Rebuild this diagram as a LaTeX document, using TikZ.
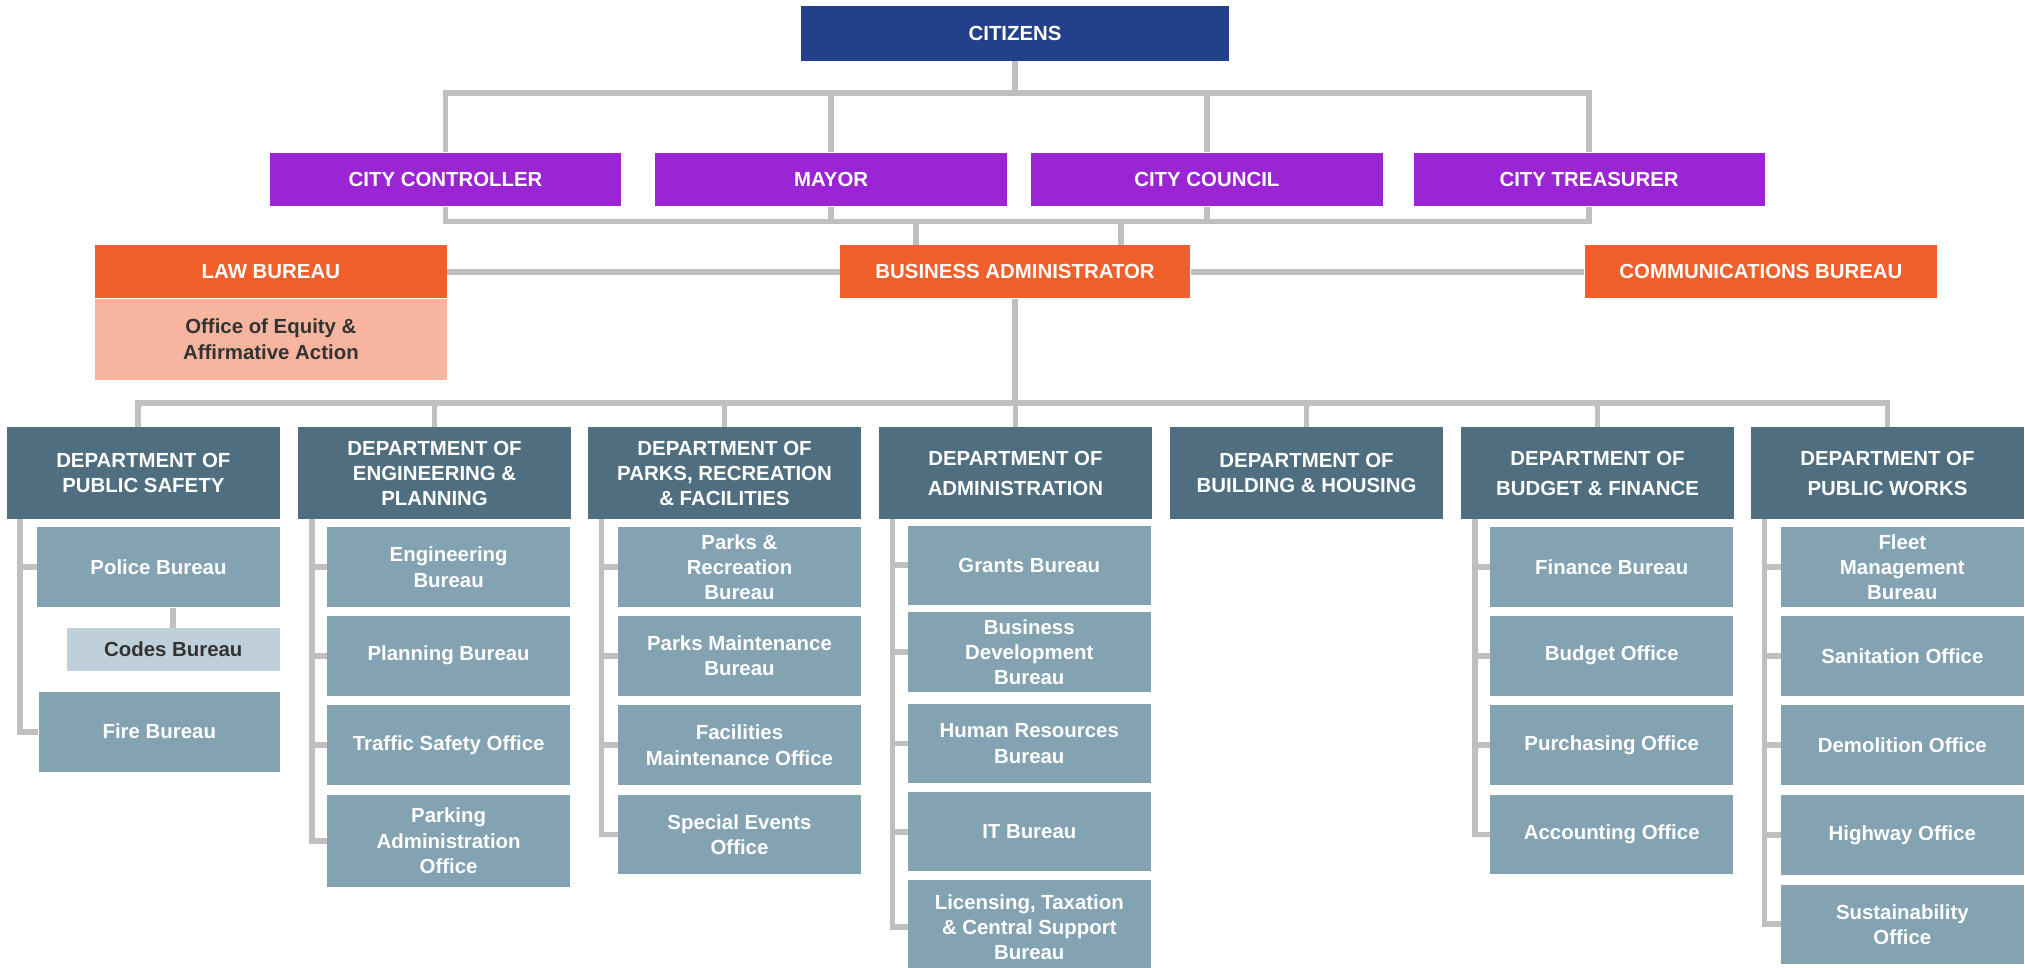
\documentclass[tikz,border=0pt]{standalone}
\usepackage{fontspec}
\setmainfont{Liberation Sans}

\definecolor{citizenblue}{HTML}{23408A}
\definecolor{electpurple}{HTML}{9B24D4}
\definecolor{officeorange}{HTML}{F15F2B}
\definecolor{equitysalmon}{HTML}{F7B5A0}
\definecolor{deptslate}{HTML}{4F6F80}
\definecolor{unitblue}{HTML}{84A3B2}
\definecolor{codesblue}{HTML}{BFD0DA}
\definecolor{linkgray}{HTML}{BFBFBF}
\definecolor{darktext}{HTML}{333333}

\tikzset{
	box/.style={rectangle, inner sep=0pt, align=center, text=white, font=\bfseries\fontsize{15.8}{19.5}\selectfont},
	citizenbox/.style={box, fill=citizenblue, minimum width=332pt, minimum height=42pt},
	electbox/.style={box, fill=electpurple, minimum width=272pt, minimum height=41.5pt},
	officebox/.style={box, fill=officeorange, minimum width=272pt, minimum height=41pt},
	equitybox/.style={box, fill=equitysalmon, text=darktext, minimum width=272pt, minimum height=62.5pt},
	deptbox/.style={box, fill=deptslate, minimum width=211pt, minimum height=71pt},
	unitbox/.style={box, fill=unitblue, minimum width=188pt, minimum height=62pt},
	codesbox/.style={box, fill=codesblue, text=darktext, minimum width=165pt, minimum height=33pt},
	link/.style={draw=linkgray, line width=4.5pt},
}

\begin{document}
\begin{tikzpicture}[x=1pt, y=-1pt]
		\path[use as bounding box, clip] (0,0) rectangle (1568,749);

		\node[citizenbox] (citizens) at (786,26) {CITIZENS};

		\node[electbox] (controller) at (345,139) {CITY CONTROLLER};
		\node[electbox] (mayor) at (643.5,139) {MAYOR};
		\node[electbox] (council) at (934.5,139) {CITY COUNCIL};
		\node[electbox] (treasurer) at (1230.5,139) {CITY TREASURER};

		\node[officebox, minimum width=272.5pt] (law) at (209.75,210.5) {LAW BUREAU};
		\node[equitybox, minimum width=272.5pt, anchor=north] (equity) at (law.south) {Office of Equity \&\\Affirmative Action};
		\node[officebox, minimum width=271.5pt] (business) at (786,210.5) {BUSINESS ADMINISTRATOR};
		\node[officebox, minimum width=273pt] (comms) at (1363.5,210.5) {COMMUNICATIONS BUREAU};

		\node[deptbox] (safety) at (111,366.5) {DEPARTMENT OF\\PUBLIC SAFETY};
		\node[deptbox] (engineering) at (336.5,366.5) {DEPARTMENT OF\\ENGINEERING \&\\PLANNING};
		\node[deptbox] (parks) at (561,366.5) {DEPARTMENT OF\\PARKS, RECREATION\\\& FACILITIES};
		\node[deptbox] (administration) at (786.25,366.5) {DEPARTMENT OF\\[3.5pt]ADMINISTRATION};
		\node[deptbox] (building) at (1011.7,366.5) {DEPARTMENT OF\\BUILDING \& HOUSING};
		\node[deptbox] (budget) at (1237,366.5) {DEPARTMENT OF\\[3.5pt]BUDGET \& FINANCE};
		\node[deptbox] (works) at (1461.5,366.5) {DEPARTMENT OF\\[3.5pt]PUBLIC WORKS};

		\node[unitbox] (police) at (122.7,439.2) {Police Bureau};
		\node[codesbox] (codes) at (134.2,502.8) {Codes Bureau};
		\node[unitbox, minimum width=186.7pt] (fire) at (123.35,566.5) {Fire Bureau};

		\node[unitbox] (engbureau) at (347.4,439.2) {Engineering\\Bureau};
		\node[unitbox] (planning) at (347.4,507.7) {Planning Bureau};
		\node[unitbox] (traffic) at (347.4,577) {Traffic Safety Office};
		\node[unitbox, minimum height=71pt] (parking) at (347.4,651) {Parking\\Administration\\Office};

		\node[unitbox] (parksrec) at (572.6,439.2) {Parks \&\\Recreation\\Bureau};
		\node[unitbox] (parksmaint) at (572.6,507.7) {Parks Maintenance\\Bureau};
		\node[unitbox] (facilities) at (572.6,577) {Facilities\\Maintenance Office};
		\node[unitbox, minimum height=61pt] (events) at (572.6,646.2) {Special Events\\Office};

		\node[unitbox, minimum height=61pt] (grants) at (797,437.7) {Grants Bureau};
		\node[unitbox] (busdev) at (797,505) {Business\\Development\\Bureau};
		\node[unitbox, minimum height=61pt] (hr) at (797,575.7) {Human Resources\\Bureau};
		\node[unitbox, minimum height=61pt] (it) at (797,644) {IT Bureau};
		\node[unitbox, minimum height=73pt] (licensing) at (797,718) {Licensing, Taxation\\\& Central Support\\Bureau};

		\node[unitbox] (finance) at (1248,439.2) {Finance Bureau};
		\node[unitbox] (budgetoffice) at (1248,507.7) {Budget Office};
		\node[unitbox] (purchasing) at (1248,577) {Purchasing Office};
		\node[unitbox, minimum height=61pt] (accounting) at (1248,646.2) {Accounting Office};

		\node[unitbox] (fleet) at (1473,439.2) {Fleet\\Management\\Bureau};
		\node[unitbox] (sanitation) at (1473,508) {Sanitation Office};
		\node[unitbox] (demolition) at (1473,577) {Demolition Office};
		\node[unitbox] (highway) at (1473,646.8) {Highway Office};
		\node[unitbox, minimum height=61pt] (sustainability) at (1473,715.7) {Sustainability\\Office};

		\coordinate (topbus) at (786,72);
		\coordinate (midbus) at (786,171.5);
		\coordinate (deptbus) at (786,312);
		\coordinate (bastemleft) at ([xshift=-77pt]business.north);
		\coordinate (bastemright) at ([xshift=82pt]business.north);
		\coordinate (safetydrop) at ([xshift=-4pt]safety.north);

		\draw[link] (citizens) -- (topbus);
		\draw[link] (controller) |- (topbus) -| (treasurer);
		\draw[link] (mayor) -- (mayor |- topbus);
		\draw[link] (council) -- (council |- topbus);

		\draw[link] (controller) |- (midbus) -| (treasurer);
		\draw[link] (mayor) -- (mayor |- midbus);
		\draw[link] (council) -- (council |- midbus);
		\draw[link] (bastemleft) -- (bastemleft |- midbus);
		\draw[link] (bastemright) -- (bastemright |- midbus);

		\draw[link] (law) -- (business) -- (comms);

		\draw[link] (business) -- (deptbus);
		\draw[link] (safetydrop) |- (deptbus) -| (works);
		\foreach \d in {engineering, parks, administration, building, budget}
			\draw[link] (\d) -- (\d |- deptbus);

		\foreach \d/\u in {safety/police, safety/fire, engineering/engbureau, engineering/planning, engineering/traffic, engineering/parking, parks/parksrec, parks/parksmaint, parks/facilities, parks/events, administration/grants, administration/busdev, administration/hr, administration/it, administration/licensing, budget/finance, budget/budgetoffice, budget/purchasing, budget/accounting, works/fleet, works/sanitation, works/demolition, works/highway, works/sustainability}
			\draw[link] ([xshift=10.5pt]\d.south west) |- (\u);

		\draw[link] (codes) -- (codes |- police.south);
	\end{tikzpicture}
\end{document}
